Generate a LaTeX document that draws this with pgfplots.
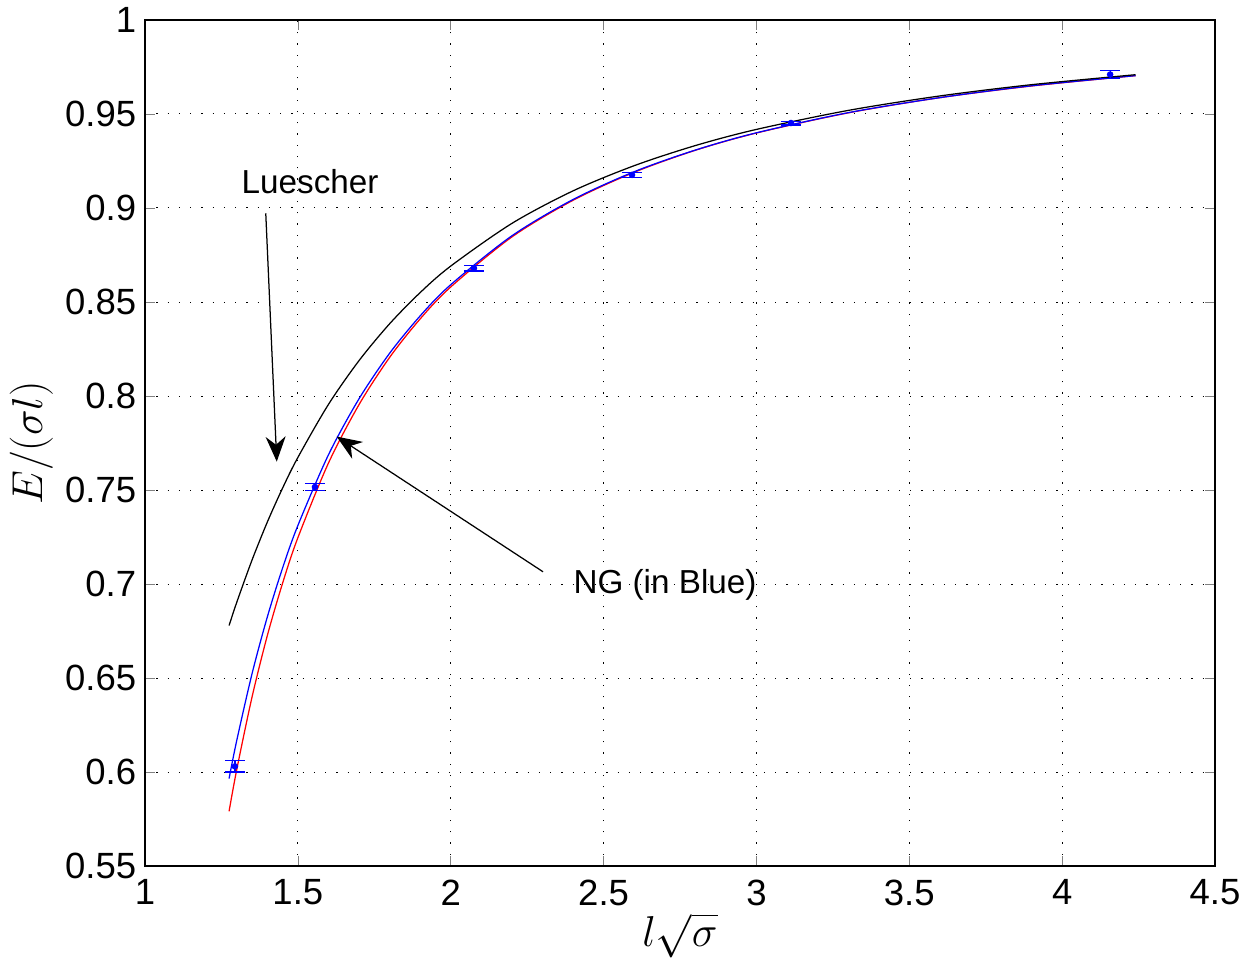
\documentclass[border=0pt]{standalone}
\usepackage{fontspec}
\setmainfont{Liberation Sans}
\usepackage{pgfplots}
\pgfplotsset{compat=1.18}
\usetikzlibrary{arrows.meta}

\begin{document}
\begin{tikzpicture}
  \begin{axis}[
    scale only axis,
    width=428pt, height=338.4pt,
    xmin=1, xmax=4.5,
    ymin=0.55, ymax=1,
    xtick={1,1.5,2,2.5,3,3.5,4,4.5},
    ytick={0.55,0.6,0.65,0.7,0.75,0.8,0.85,0.9,0.95,1},
    /pgf/number format/fixed,
    /pgf/number format/precision=2,
    /pgf/number format/assume math mode=true,
    tick label style={font=\fontsize{14.6}{18}\selectfont},
    xticklabel style={yshift=-2pt},
    tick align=inside,
    major tick length=4pt,
    grid=major,
    grid style={black, line width=0.4pt, dash pattern=on 0.5pt off 4pt},
    axis line style={black, line width=0.5pt},
    xlabel={$l\sqrt{\sigma}$},
    ylabel={$E/(\sigma l)$},
    label style={font=\fontsize{16}{19}\selectfont},
    xlabel style={yshift=4pt},
    ylabel style={yshift=-2pt},
  ]
  % --- red curve ---
  \addplot[red, line width=0.5pt, smooth] coordinates {
    (1.275,0.5791)(1.30,0.6012)(1.35,0.6398)(1.40,0.6725)(1.45,0.7004)
    (1.50,0.7246)(1.60,0.7643)(1.70,0.7954)(1.80,0.8205)(1.90,0.8410)
    (2.00,0.8580)(2.20,0.8846)(2.40,0.9041)(2.60,0.9190)(2.80,0.9307)
    (3.00,0.9399)(3.30,0.9506)(3.60,0.9587)(3.90,0.9649)(4.24,0.9704)
  };
  % --- NG (blue) ---
  \addplot[blue, line width=0.5pt, smooth] coordinates {
    (1.275,0.5965)(1.30,0.6167)(1.35,0.6522)(1.40,0.6824)(1.45,0.7085)
    (1.50,0.7311)(1.60,0.7687)(1.70,0.7985)(1.80,0.8227)(1.90,0.8426)
    (2.00,0.8592)(2.20,0.8852)(2.40,0.9045)(2.60,0.9193)(2.80,0.9308)
    (3.00,0.9400)(3.30,0.9507)(3.60,0.9587)(3.90,0.9650)(4.24,0.9704)
  };
  % --- Luescher (black) ---
  \addplot[black, line width=0.5pt, smooth] coordinates {
    (1.275,0.6779)(1.30,0.6902)(1.35,0.7127)(1.40,0.7329)(1.45,0.7510)
    (1.50,0.7673)(1.60,0.7955)(1.70,0.8188)(1.80,0.8384)(1.90,0.8550)
    (2.00,0.8691)(2.20,0.8918)(2.40,0.9091)(2.60,0.9225)(2.80,0.9332)
    (3.00,0.9418)(3.30,0.9519)(3.60,0.9596)(3.90,0.9656)(4.24,0.9709)
  };
  % --- lattice data ---
  \addplot[blue, only marks, mark=*, mark size=1.1pt,
    error bars/.cd, y dir=both, y explicit,
    error bar style={blue, line width=0.5pt},
    error mark options={blue, rotate=90, mark size=4pt, line width=0.5pt}]
    table[x=x, y=y, y error=e] {
      x     y      e
      1.294 0.6030 0.0030
      1.556 0.7516 0.0020
      2.076 0.8680 0.0015
      2.593 0.9176 0.0012
      3.113 0.9452 0.0010
      4.157 0.9710 0.0020
    };

  % --- annotations ---
  \node[font=\fontsize{13.3}{16}\selectfont] at (axis cs:1.540,0.9138) {Luescher};
  \draw[-{Stealth[length=10pt,width=8pt]}, line width=0.5pt]
    (axis cs:1.395,0.8972) -- (axis cs:1.431,0.7651);
  \node[font=\fontsize{13.3}{16}\selectfont] at (axis cs:2.701,0.6995) {NG (in Blue)};
  \draw[-{Stealth[length=10pt,width=8pt]}, line width=0.5pt]
    (axis cs:2.302,0.7065) -- (axis cs:1.627,0.7784);
  \end{axis}
  \pgfresetboundingbox
  \path[use as bounding box] (-58pt,-36.8pt) rectangle (438.8pt,346.4pt);
\end{tikzpicture}
\end{document}
